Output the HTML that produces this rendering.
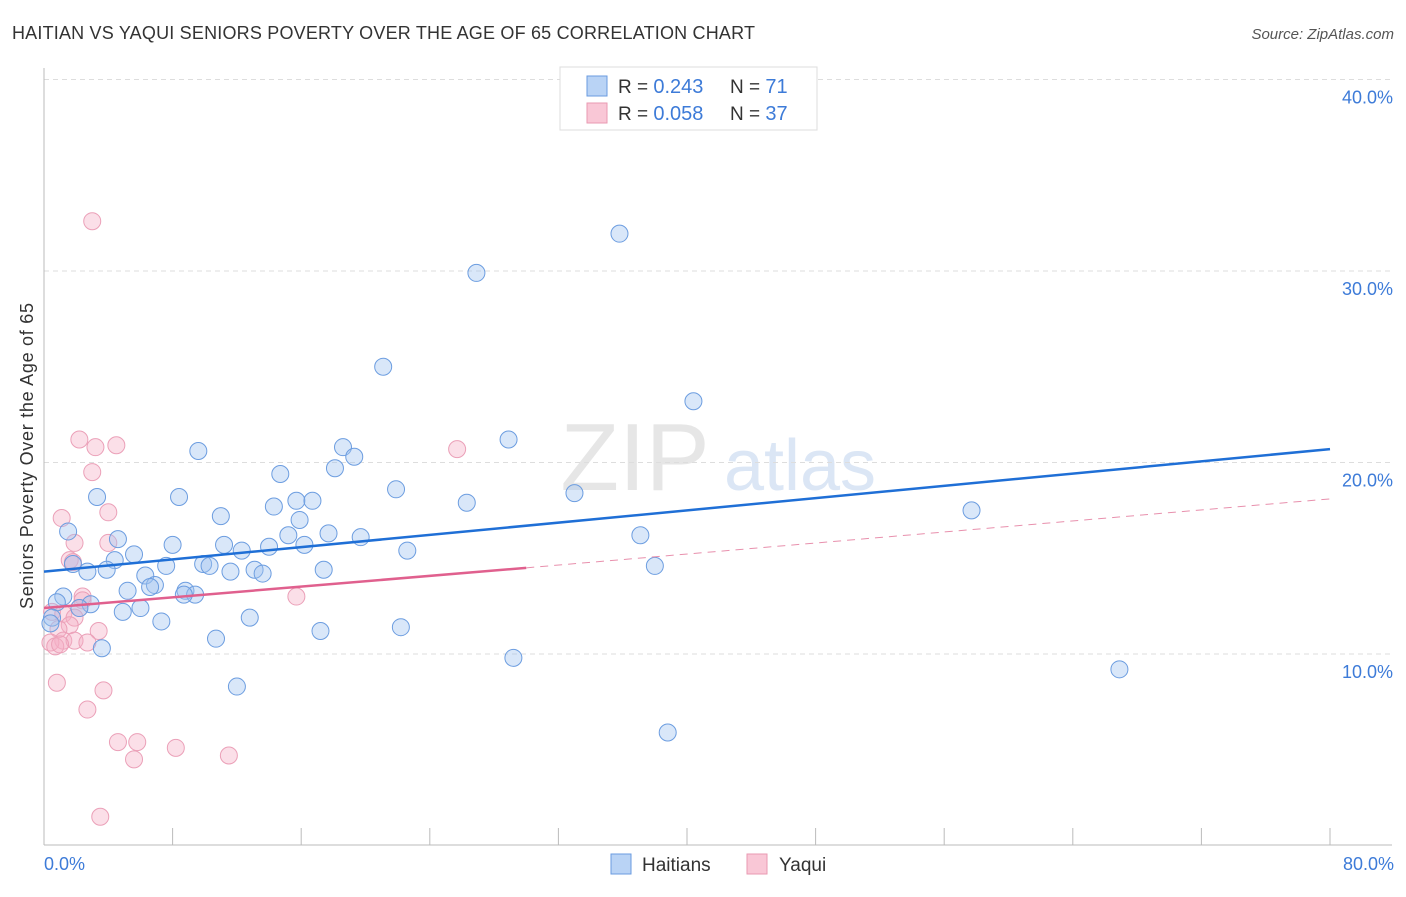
<!DOCTYPE html>
<html><head><meta charset="utf-8"><style>
body{margin:0;background:#fff;font-family:"Liberation Sans",sans-serif;}
svg text{font-family:"Liberation Sans",sans-serif;}
</style></head><body>
<svg id="chart" width="1406" height="892">
<text x="12" y="39" font-size="18" fill="#333" textLength="743">HAITIAN VS YAQUI SENIORS POVERTY OVER THE AGE OF 65 CORRELATION CHART</text>
<text x="1394" y="39" font-size="15" fill="#555" font-style="italic" text-anchor="end">Source: ZipAtlas.com</text>
<text x="635" y="490" font-size="96" fill="#e6e6e6" font-family="Liberation Serif" text-anchor="middle">ZIP</text>
<text x="800" y="490" font-size="72" fill="#dbe6f5" text-anchor="middle">atlas</text>
<g id="grid"></g><g id="ticks"></g>
<line x1="44" y1="68" x2="44" y2="845" stroke="#bbb"/>
<line x1="44" y1="845" x2="1392" y2="845" stroke="#bbb"/>
<text transform="translate(33,456) rotate(-90)" font-size="18" fill="#333" text-anchor="middle" textLength="306">Seniors Poverty Over the Age of 65</text>
<text x="44" y="870" font-size="18" fill="#3d7bd8">0.0%</text>
<text x="1394" y="870" font-size="18" fill="#3d7bd8" text-anchor="end">80.0%</text>
<g id="pts"></g><g id="lines"></g>
<g>
<rect x="560" y="67" width="257" height="63" fill="#fff" stroke="#ddd"/>
<rect x="587" y="76" width="20" height="20" fill="#b9d3f5" stroke="#6a9be0"/>
<rect x="587" y="103" width="20" height="20" fill="#f9c7d6" stroke="#e99ab2"/>
<text x="618" y="93" font-size="19" fill="#333">R = <tspan fill="#3d7bd8" font-size="20">0.243</tspan></text>
<text x="730" y="93" font-size="19" fill="#333">N = <tspan fill="#3d7bd8" font-size="20">71</tspan></text>
<text x="618" y="120" font-size="19" fill="#333">R = <tspan fill="#3d7bd8" font-size="20">0.058</tspan></text>
<text x="730" y="120" font-size="19" fill="#333">N = <tspan fill="#3d7bd8" font-size="20">37</tspan></text>
</g>
<g>
<rect x="611" y="854" width="20" height="20" fill="#b9d3f5" stroke="#6a9be0"/>
<text x="642" y="871" font-size="19" fill="#333">Haitians</text>
<rect x="747" y="854" width="20" height="20" fill="#f9c7d6" stroke="#e99ab2"/>
<text x="779" y="871" font-size="19" fill="#333">Yaqui</text>
</g>
</svg>
<script>
const yTicks=[10,20,30,40];
const yTickLabels=["10.0%","20.0%","30.0%","40.0%"];
const xTicks=[0,8,16,24,32,40,48,56,64,72,80];
const haitiansX=[35.8,26.9,21.1,40.4,28.9,18.6,9.6,19.3,18.1,14.7,21.9,8.4,3.3,15.7,16.7,26.3,33.0,14.3,57.7,11.0,15.9,1.5,15.2,17.7,37.1,19.7,4.6,8.0,11.2,14.0,16.2,22.6,12.3,5.6,4.4,1.8,38.0,7.6,9.9,10.3,2.7,3.9,11.6,13.1,13.6,17.4,6.3,6.9,6.6,8.8,5.2,9.4,8.7,1.2,0.8,2.9,6.0,2.2,4.9,12.8,7.3,0.5,0.4,17.2,22.2,10.7,3.6,29.2,66.9,12.0,38.8];
const haitiansY=[31.95,29.9,25.0,23.2,21.2,20.8,20.6,20.3,19.7,19.4,18.6,18.2,18.2,18.0,18.0,17.9,18.4,17.7,17.5,17.2,17.0,16.4,16.2,16.3,16.2,16.1,16.0,15.7,15.7,15.6,15.7,15.4,15.4,15.2,14.9,14.7,14.6,14.6,14.7,14.6,14.3,14.4,14.3,14.4,14.2,14.4,14.1,13.6,13.5,13.3,13.3,13.1,13.1,13.0,12.7,12.6,12.4,12.4,12.2,11.9,11.7,11.9,11.6,11.2,11.4,10.8,10.3,9.8,9.2,8.3,5.9];
const yaquiX=[3.0,2.2,4.5,3.2,25.7,3.0,1.1,4.0,1.9,4.0,1.6,1.8,15.7,2.4,2.4,2.2,0.5,1.2,1.9,1.6,3.4,0.9,1.2,1.9,0.4,2.7,0.7,1.0,0.8,3.7,2.7,4.6,5.8,5.6,8.2,11.5,3.5];
const yaquiY=[32.6,21.2,20.9,20.8,20.7,19.5,17.1,17.4,15.8,15.8,14.9,14.8,13.0,13.0,12.8,12.4,12.2,12.1,11.9,11.5,11.2,11.3,10.7,10.7,10.6,10.6,10.4,10.5,8.5,8.1,7.1,5.4,5.4,4.5,5.1,4.7,1.5];
const blueTrend=[[0,14.3],[80,20.7]];
const pinkTrend=[[0,12.4],[30,14.5],[80,18.1]];
const NS="http://www.w3.org/2000/svg";
const X=v=>44+v/80*1286, Y=v=>845.5-v*19.15;
function mk(t,a,p){const e=document.createElementNS(NS,t);for(const k in a)e.setAttribute(k,a[k]);p.appendChild(e);return e;}
const g=document.getElementById('grid'),tk=document.getElementById('ticks');
yTicks.forEach((v,i)=>{
 const l=mk('line',{x1:44,x2:1392,y1:Y(v),y2:Y(v),stroke:'#ddd','stroke-dasharray':'5,4'},g);
 
 
 const t=mk('text',{x:1393,y:Y(v)+24,'font-size':18,fill:'#3d7bd8','text-anchor':'end'},tk);
 t.textContent=yTickLabels[i];
 
 
});
xTicks.forEach(v=>{
 const l=mk('line',{x1:X(v),x2:X(v),y1:828,y2:845,stroke:'#bbb'},tk);
 
 
});
const pts=document.getElementById('pts');
yaquiX.forEach((v,i)=>{
 const c=mk('circle',{cx:X(v),cy:Y(yaquiY[i]),r:8.5,fill:'rgba(246,175,198,0.4)',stroke:'#eba0b8','stroke-width':1},pts);
 
 
});
haitiansX.forEach((v,i)=>{
 const c=mk('circle',{cx:X(v),cy:Y(haitiansY[i]),r:8.5,fill:'rgba(160,196,240,0.4)',stroke:'#6c9de0','stroke-width':1},pts);
 
 
});
const ln=document.getElementById('lines');
let b=mk('line',{x1:X(blueTrend[0][0]),y1:Y(blueTrend[0][1]),x2:X(blueTrend[1][0]),y2:Y(blueTrend[1][1]),stroke:'#1f6fd6','stroke-width':2.5},ln);


let p1=mk('line',{x1:X(pinkTrend[0][0]),y1:Y(pinkTrend[0][1]),x2:X(pinkTrend[1][0]),y2:Y(pinkTrend[1][1]),stroke:'#e0608e','stroke-width':2.5},ln);


let p2=mk('line',{x1:X(pinkTrend[1][0]),y1:Y(pinkTrend[1][1]),x2:X(pinkTrend[2][0]),y2:Y(pinkTrend[2][1]),stroke:'#e890ad','stroke-width':1,'stroke-dasharray':'8,6'},ln);


</script>
</body></html>
